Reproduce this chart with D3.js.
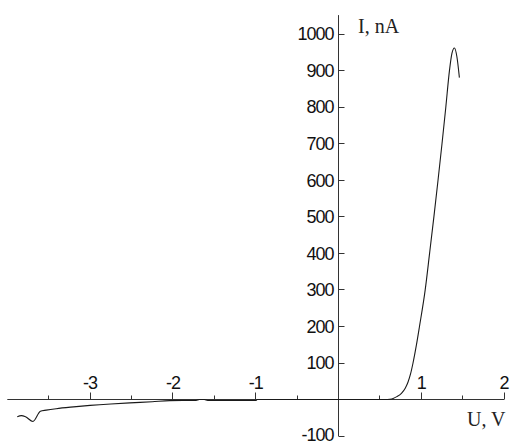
<!DOCTYPE html>
<html>
<head>
<meta charset="utf-8">
<script src="https://cdn.jsdelivr.net/npm/d3@7"></script>
<style>
  body { margin: 0; background: #fff; }
  svg { display: block; }
</style>
</head>
<body>
<svg id="chart" width="511" height="443"></svg>
<script>
// I-V curve
var voltage = [-3.88, -3.83, -3.78, -3.69, -3.60, -3.53, -3.41, -3.20, -3.00, -2.75, -2.52, -2.25, -2.04,
               -1.72, -1.68, -1.62, -1.58, -1.00, -0.98, 0.56, 0.62, 0.66, 0.705, 0.76, 0.806, 0.84, 0.87,
               0.90, 0.94, 0.978, 1.047, 1.10, 1.152, 1.202, 1.25, 1.296, 1.34, 1.37, 1.40, 1.43, 1.46];
var current = [-47, -44, -47, -60, -32, -29, -25, -20, -16, -12, -9, -6, -3,
               -2.5, 0, 0, -2.5, -2.5, 0, 0, 1, 3, 8, 17, 31, 48, 70,
               100, 148, 200, 300, 400, 500, 600, 700, 800, 900, 947, 962, 938, 881];

var xTicks = [-3, -2, -1, 1, 2];
var xMinorTicks = [-3.5, -2.5, -1.5, -0.5, 0.5, 1.5];
var yTicks = [-100, 100, 200, 300, 400, 500, 600, 700, 800, 900, 1000];

var xLabel = "U, V";
var yLabel = "I, nA";

var svg = d3.select("#chart");

var x = d3.scaleLinear().domain([-4, 2]).range([7.3, 504.1]);
var y = d3.scaleLinear().domain([-100, 1000]).range([436.1, 34.1]);

var axisColor = "#333";
var numFont = "'Liberation Sans', Arial, sans-serif";
var serif = "'Liberation Serif', 'Times New Roman', serif";

var x0 = Math.round(x(0) - 0.5) + 0.5;
var y0 = Math.round(y(0) - 0.5) + 0.5;

// x axis
svg.append("line")
  .attr("x1", x(-4)).attr("x2", x(2))
  .attr("y1", y0).attr("y2", y0)
  .attr("stroke", axisColor);

svg.selectAll(".xtick")
  .data(xTicks)
  .enter()
  .append("line")
  .attr("x1", d => Math.round(x(d) - 0.5) + 0.5)
  .attr("x2", d => Math.round(x(d) - 0.5) + 0.5)
  .attr("y1", y0).attr("y2", y0 - 7)
  .attr("stroke", axisColor);

svg.selectAll(".xminor")
  .data(xMinorTicks)
  .enter()
  .append("line")
  .attr("x1", d => Math.round(x(d) - 0.5) + 0.5)
  .attr("x2", d => Math.round(x(d) - 0.5) + 0.5)
  .attr("y1", y0).attr("y2", y0 - 4)
  .attr("stroke", axisColor);

svg.selectAll(".xlab")
  .data(xTicks)
  .enter()
  .append("text")
  .attr("x", d => x(d))
  .attr("y", y0 - 10.5)
  .attr("text-anchor", "middle")
  .style("font-family", numFont)
  .style("font-size", "18px")
  .style("letter-spacing", "-1px")
  .attr("fill", "#111")
  .text(d => String(d));

// y axis
svg.append("line")
  .attr("x1", x0).attr("x2", x0)
  .attr("y1", y(-100)).attr("y2", y(1052))
  .attr("stroke", axisColor);

svg.selectAll(".ytick")
  .data(yTicks)
  .enter()
  .append("line")
  .attr("x1", x0).attr("x2", x0 + 6)
  .attr("y1", d => Math.round(y(d) - 0.5) + 0.5)
  .attr("y2", d => Math.round(y(d) - 0.5) + 0.5)
  .attr("stroke", axisColor);

svg.selectAll(".ylab")
  .data(yTicks)
  .enter()
  .append("text")
  .attr("x", x0 - 5)
  .attr("y", d => Math.min(y(d) + 6.3, 440.5))
  .attr("text-anchor", "end")
  .style("font-family", numFont)
  .style("font-size", "18px")
  .style("letter-spacing", "-1px")
  .attr("fill", "#111")
  .text(d => String(d));

// axis titles
svg.append("text")
  .attr("x", 358).attr("y", 33)
  .style("font-family", serif)
  .style("font-size", "20px")
  .attr("fill", "#222")
  .text(yLabel);

svg.append("text")
  .attr("x", 467).attr("y", 426)
  .style("font-family", serif)
  .style("font-size", "20px")
  .attr("fill", "#222")
  .text(xLabel);

// the curve
var line = d3.line()
  .x((d, i) => x(voltage[i]))
  .y(d => y(d))
  .curve(d3.curveMonotoneX);

svg.append("path")
  .datum(current)
  .attr("d", line)
  .attr("fill", "none")
  .attr("stroke", "#1a1a1a")
  .attr("stroke-width", 1.1);
</script>
</body>
</html>
